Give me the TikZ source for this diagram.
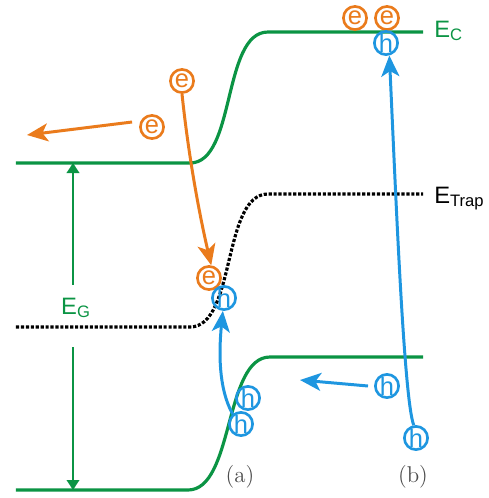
\documentclass[tikz,border=0pt]{standalone}
\usepackage{fontspec}
\setsansfont{Liberation Sans}
\usetikzlibrary{arrows.meta}
\definecolor{bandgreen}{HTML}{0B9444}
\definecolor{elecor}{HTML}{EA7B1C}
\definecolor{holeblue}{HTML}{1E96E0}

\begin{document}
\begin{tikzpicture}[x=0.02cm,y=-0.02cm,font=\sffamily\fontsize{13.5}{15}\selectfont,
 band/.style={bandgreen,line width=1.8pt},
 trap/.style={black,line width=1.8pt,dash pattern=on 1.8pt off 1pt},
 elec/.style={circle,draw=elecor,text=elecor,line width=1.5pt,inner sep=0pt,minimum size=13.2pt,font=\sffamily\fontsize{14.5}{14.5}\selectfont},
 hole/.style={elec,draw=holeblue,text=holeblue},
 oar/.style={elecor,line width=1.7pt,-{Stealth[length=4.2mm,width=3.6mm,inset=1.1mm]}},
 bar/.style={oar,holeblue},
 egar/.style={bandgreen,line width=1.1pt,-{Triangle[length=2mm,width=2.5mm]}},
 lvl/.style={anchor=base west,inner sep=0pt},
 tag/.style={font=\rmfamily\fontsize{13}{15}\selectfont,text=black!70}]
\useasboundingbox (0,0) rectangle (489,498);
% band edges and trap level
\coordinate (ecA) at (73,163);
\coordinate (evA) at (73,490);
\draw[band] (16,163) -- (190,163) .. controls (236,163) and (222,32) .. (268,32) -- (423,32);
\draw[trap] (16,327) -- (190,327) .. controls (236,327) and (222,194) .. (268,194) -- (423,194);
\draw[band] (16,490) -- (188,490) .. controls (234,490) and (224,357) .. (270,357) -- (423,357);
\node[lvl,text=bandgreen] (ec) at (434,37) {E\textsubscript{C}};
\node[lvl] (etrap) at (434,203) {E\textsubscript{Trap}};
\node[text=bandgreen] (eg) at (76,308) {E\textsubscript{G}};
\draw[egar,shorten <=0.14cm] (eg.north -| ecA) -- (ecA);
\draw[egar,shorten <=0.46cm] (eg.south -| evA) -- (evA);
% carriers
\node[elec] (e1) at (152,127) {e};
\node[elec] (e2) at (182,81) {e};
\node[elec] (e3) at (209,278) {e};
\node[elec] (e4) at (355,18) {e};
\node[elec] (e5) at (387,18) {e};
\node[hole] (h1) at (386,43) {h};
\node[hole] (h2) at (224,298) {h};
\node[hole] (h3) at (248,398) {h};
\node[hole] (h4) at (241,424) {h};
\node[hole] (h5) at (387,386) {h};
\node[hole] (h6) at (416,438) {h};
\coordinate (eout) at (27,135);
\coordinate (hout) at (300,380);
% transitions
\draw[oar] ([shift={(-7,-5)}]e1.west) -- (eout);
\draw[oar] (e2.south) .. controls (190,170) and (203,230) .. (e3.80);
\draw[bar] (h4.130) .. controls (218,388) and (219,350) .. (h2.265);
\draw[bar] ([shift={(-6,0)}]h5.west) -- (hout);
\draw[bar] (h6.100) .. controls (404,400) and (396,200) .. (h1.285);
\node[tag] (a) at (240,477) {(a)};
\node[tag] (b) at (413,477) {(b)};
\end{tikzpicture}
\end{document}
